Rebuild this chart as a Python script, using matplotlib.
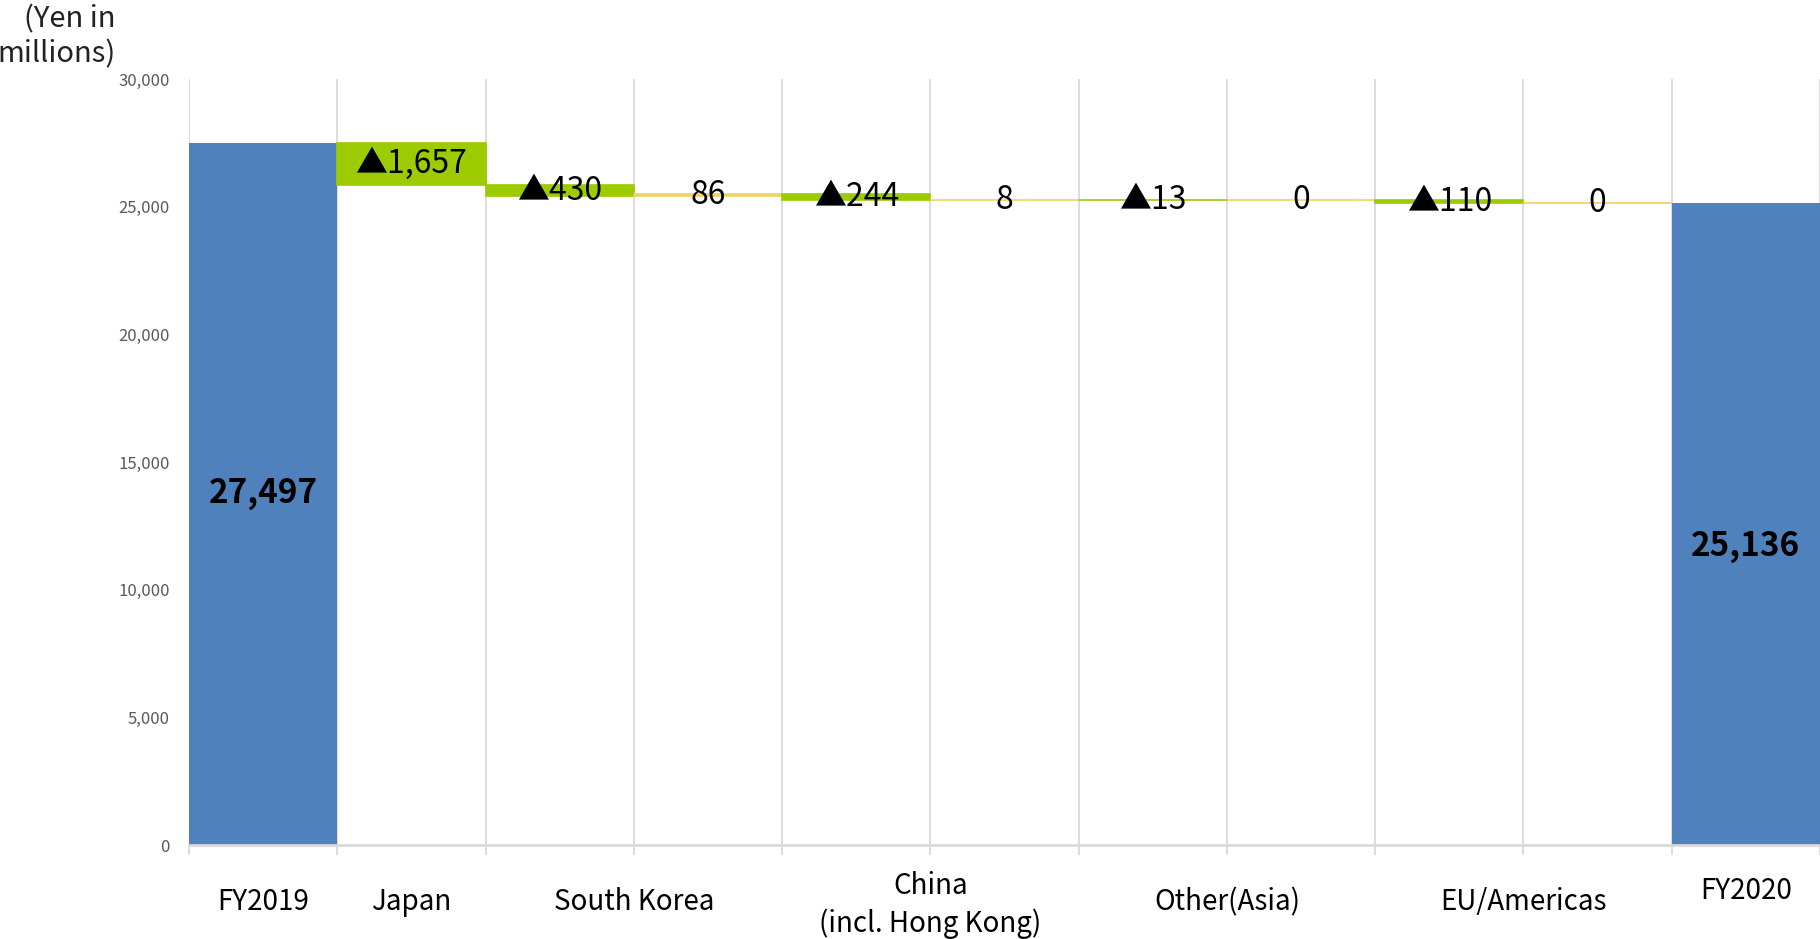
import matplotlib
matplotlib.use("Agg")
import matplotlib.pyplot as plt
import matplotlib.transforms as mtransforms
from matplotlib.ticker import FuncFormatter, MultipleLocator

plt.rcParams["font.family"] = ["Noto Sans CJK JP", "DejaVu Sans"]

# Net sales bridge FY2019 -> FY2020 (yen in millions)
start_label = "FY2019"
end_label = "FY2020"
start_value = 27497
end_value = 25136
deltas = [-1657, -430, 86, -244, 8, -13, 0, -110, 0]

# category captions and the column position they sit under
cat_labels = ["FY2019", "Japan", "South Korea", "China\n(incl. Hong Kong)",
              "Other(Asia)", "EU/Americas", "FY2020"]
cat_pos = [0, 1, 2.5, 4.5, 6.5, 8.5, 10]

BLUE = "#4F81BD"
GREEN = "#9BCB00"
YELLOW = "#F4D25E"
GRID = "#D9D9D9"


def fmt_delta(v):
    if v < 0:
        return "\u25b2{:,}".format(-v)
    return "{:,}".format(v)


fig = plt.figure(figsize=(18.2, 9.39), dpi=100)
ax = fig.add_axes([189 / 1820, 94 / 939, 1 - 189 / 1820, (845 - 79) / 939])

n = len(deltas) + 2
ax.set_xlim(-0.5, n - 0.5)
ax.set_ylim(0, 30000)

# opening and closing totals
ax.bar(0, start_value, width=1.0, color=BLUE, zorder=3)
ax.bar(n - 1, end_value, width=1.0, color=BLUE, zorder=3)
ax.text(0, start_value / 2, "{:,}".format(start_value), ha="center", va="center",
        fontsize=24, fontweight="bold", color="black", zorder=4)
ax.annotate("{:,}".format(end_value), (n - 1, end_value / 2), xytext=(0, -16),
            textcoords="offset points", ha="center", va="center",
            fontsize=24, fontweight="bold", color="black", zorder=4)

# floating steps
level = start_value
for i, d in enumerate(deltas, start=1):
    if d < 0:
        bottom, height, col = level + d, -d, GREEN
    else:
        bottom, height, col = level, d, YELLOW
    ax.bar(i, height, bottom=bottom, width=1.0, color=col,
           edgecolor=col, linewidth=1.2, zorder=3)
    ax.text(i, bottom + height / 2, fmt_delta(d), ha="center", va="center",
            fontsize=23, color="black", zorder=4)
    level += d

# column separators as vertical grid
ax.xaxis.set_major_locator(MultipleLocator(1.0, offset=0.5))
ax.set_xticklabels([])
ax.grid(axis="x", color=GRID, linewidth=1.3, zorder=0)
ax.tick_params(axis="x", length=7, color=GRID, width=1.3)

ax.yaxis.set_major_locator(MultipleLocator(5000))
ax.yaxis.set_major_formatter(FuncFormatter(lambda v, p: "{:,.0f}".format(v)))
ax.tick_params(axis="y", length=0, pad=14, labelsize=12, labelcolor="#595959")

for s in ["top", "right", "left"]:
    ax.spines[s].set_visible(False)
ax.spines["bottom"].set_color(GRID)
ax.spines["bottom"].set_linewidth(2)
ax.spines["bottom"].set_zorder(5)

trans = mtransforms.blended_transform_factory(ax.transData, fig.transFigure)
for lab, x in zip(cat_labels, cat_pos):
    y = 1 - 902 / 939
    if "\n" in lab:
        y = 1 - 905 / 939
    if lab == end_label:
        y = 1 - 891 / 939
    ax.text(x, y, lab, transform=trans, ha="center", va="center",
            fontsize=20, color="black", linespacing=1.35)

fig.text(116 / 1820, 1 - 37 / 939, "(Yen in\nmillions)", ha="right", va="center",
         fontsize=21, color="#222222", linespacing=1.25)

fig.savefig("out.png", dpi=100)
